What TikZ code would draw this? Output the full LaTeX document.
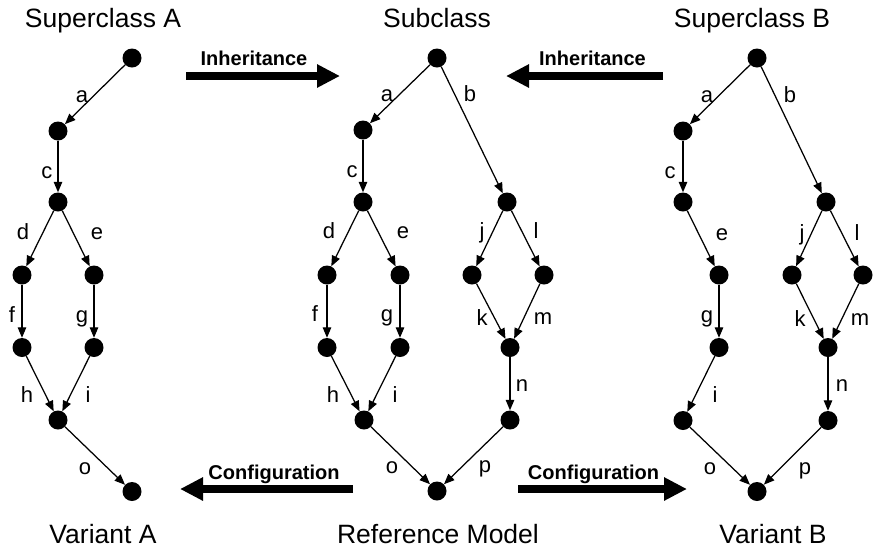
\documentclass[tikz,border=0pt]{standalone}
\usepackage{fontspec}
\setmainfont{Liberation Sans}
\usetikzlibrary{arrows.meta}
\begin{document}
\begin{tikzpicture}[x=1pt,y=-1pt,
  dot/.style={circle,fill=black,inner sep=0pt,minimum size=19pt},
  edge/.style={line width=1.25pt,-{Triangle[length=10.5pt,width=8.5pt]}},
  title/.style={font=\fontsize{26.5}{30}\selectfont,anchor=base,inner sep=0pt},
  lbl/.style={font=\fontsize{22}{26}\selectfont,anchor=base,inner sep=0pt},
  bigarrow/.style={line width=8pt,-{Triangle[length=23pt,width=22pt]}},
  blbl/.style={font=\bfseries\fontsize{20}{24}\selectfont,anchor=base,inner sep=0pt}]
\useasboundingbox (0,0) rectangle (873,550);

% ---------- titles ----------
\node[title] (tA) at (103,27) {Superclass A};
\node[title] (tS) at (437,27) {Subclass};
\node[title] (tB) at (752,27) {Superclass B};
\node[title] (vA) at (103,543) {Variant A};
\node[title] (vR) at (438,543) {Reference Model};
\node[title] (vB) at (773,543) {Variant B};

% ---------- big arrows ----------
\coordinate (iLs) at (186,76);  \coordinate (iLe) at (340,76);
\coordinate (iRs) at (663,76);  \coordinate (iRe) at (506,76);
\coordinate (cLs) at (353,489); \coordinate (cLe) at (180,489);
\coordinate (cRs) at (518,489); \coordinate (cRe) at (687,489);
\draw[bigarrow] (iLs) -- (iLe);
\draw[bigarrow] (iRs) -- (iRe);
\draw[bigarrow] (cLs) -- (cLe);
\draw[bigarrow] (cRs) -- (cRe);
\node[blbl] (tiL) at (254,65.5) {Inheritance};
\node[blbl] (tiR) at (592.5,65.5) {Inheritance};
\node[blbl] (tcL) at (274,479) {Configuration};
\node[blbl] (tcR) at (593.5,479) {Configuration};

% ---------- Superclass A / Variant A ----------
\node[dot] (A0) at (132,58) {};
\node[dot] (A1) at (58,131) {};
\node[dot] (A2) at (58,202) {};
\node[dot] (A3) at (22,275) {};
\node[dot] (A4) at (94,275) {};
\node[dot] (A5) at (22,347.5) {};
\node[dot] (A6) at (94,347.5) {};
\node[dot] (A7) at (58,420) {};
\node[dot] (A8) at (132,491.5) {};
\draw[edge] (A0) -- (A1);
\draw[edge] (A1) -- (A2);
\draw[edge] (A2) -- (A3);
\draw[edge] (A2) -- (A4);
\draw[edge] (A3) -- (A5);
\draw[edge] (A4) -- (A6);
\draw[edge] (A5) -- (A7);
\draw[edge] (A6) -- (A7);
\draw[edge] (A7) -- (A8);
\node[lbl] (la) at (82,102) {a};
\node[lbl] (lc) at (47,178) {c};
\node[lbl] (ld) at (23,239) {d};
\node[lbl] (le) at (97,239) {e};
\node[lbl] (lf) at (12,322) {f};
\node[lbl] (lg) at (82,322) {g};
\node[lbl] (lh) at (27,402) {h};
\node[lbl] (li) at (88,402) {i};
\node[lbl] (lo) at (85,474) {o};

% ---------- Subclass / Reference Model ----------
\node[dot] (M0) at (437,58) {};
\node[dot] (M1) at (363,130) {};
\node[dot] (M2) at (363,202) {};
\node[dot] (M3) at (327,275) {};
\node[dot] (M4) at (400,275) {};
\node[dot] (M5) at (327,347.5) {};
\node[dot] (M6) at (400,347.5) {};
\node[dot] (M7) at (364,420) {};
\node[dot] (M8) at (437,491) {};
\node[dot] (Mb) at (507,202) {};
\node[dot] (Mj) at (472,275) {};
\node[dot] (Ml) at (544,275) {};
\node[dot] (Mk) at (510,347.5) {};
\node[dot] (Mn) at (510,420) {};
\draw[edge] (M0) -- (M1);
\draw[edge] (M0) -- (Mb);
\draw[edge] (M1) -- (M2);
\draw[edge] (M2) -- (M3);
\draw[edge] (M2) -- (M4);
\draw[edge] (M3) -- (M5);
\draw[edge] (M4) -- (M6);
\draw[edge] (M5) -- (M7);
\draw[edge] (M6) -- (M7);
\draw[edge] (M7) -- (M8);
\draw[edge] (Mb) -- (Mj);
\draw[edge] (Mb) -- (Ml);
\draw[edge] (Mj) -- (Mk);
\draw[edge] (Ml) -- (Mk);
\draw[edge] (Mk) -- (Mn);
\draw[edge] (Mn) -- (M8);
\node[lbl] (ma) at (387,101) {a};
\node[lbl] (mb) at (470,101) {b};
\node[lbl] (mc) at (352,177) {c};
\node[lbl] (md) at (329,238) {d};
\node[lbl] (me) at (403,238) {e};
\node[lbl] (mj) at (482,238) {j};
\node[lbl] (ml) at (536,238) {l};
\node[lbl] (mf) at (315,321) {f};
\node[lbl] (mg) at (387,321) {g};
\node[lbl] (mk) at (482,325) {k};
\node[lbl] (mm) at (543,324) {m};
\node[lbl] (mh) at (333,402) {h};
\node[lbl] (mi) at (395,402) {i};
\node[lbl] (mn) at (522,391) {n};
\node[lbl] (mo) at (392,473) {o};
\node[lbl] (mp) at (485,472) {p};

% ---------- Superclass B / Variant B ----------
\node[dot] (B0) at (757,58) {};
\node[dot] (B1) at (683,131) {};
\node[dot] (B2) at (683,202) {};
\node[dot] (B4) at (719,275) {};
\node[dot] (B6) at (719,347.5) {};
\node[dot] (B7) at (683,420.5) {};
\node[dot] (B8) at (757,491.5) {};
\node[dot] (Bb) at (826,202) {};
\node[dot] (Bj) at (792,275) {};
\node[dot] (Bl) at (863,275) {};
\node[dot] (Bk) at (828,347.5) {};
\node[dot] (Bn) at (828,420.5) {};
\draw[edge] (B0) -- (B1);
\draw[edge] (B0) -- (Bb);
\draw[edge] (B1) -- (B2);
\draw[edge] (B2) -- (B4);
\draw[edge] (B4) -- (B6);
\draw[edge] (B6) -- (B7);
\draw[edge] (B7) -- (B8);
\draw[edge] (Bb) -- (Bj);
\draw[edge] (Bb) -- (Bl);
\draw[edge] (Bj) -- (Bk);
\draw[edge] (Bl) -- (Bk);
\draw[edge] (Bk) -- (Bn);
\draw[edge] (Bn) -- (B8);
\node[lbl] (ba) at (707,102) {a};
\node[lbl] (bb) at (790,102) {b};
\node[lbl] (bc) at (670,178) {c};
\node[lbl] (be) at (722,240) {e};
\node[lbl] (bj) at (802,240) {j};
\node[lbl] (bl) at (857,240) {l};
\node[lbl] (bg) at (707,322) {g};
\node[lbl] (bk) at (800,326) {k};
\node[lbl] (bm) at (860,325) {m};
\node[lbl] (bn) at (842,391) {n};
\node[lbl] (bi) at (715,402) {i};
\node[lbl] (bo) at (710,474) {o};
\node[lbl] (bp) at (805,474) {p};
\end{tikzpicture}
\end{document}
